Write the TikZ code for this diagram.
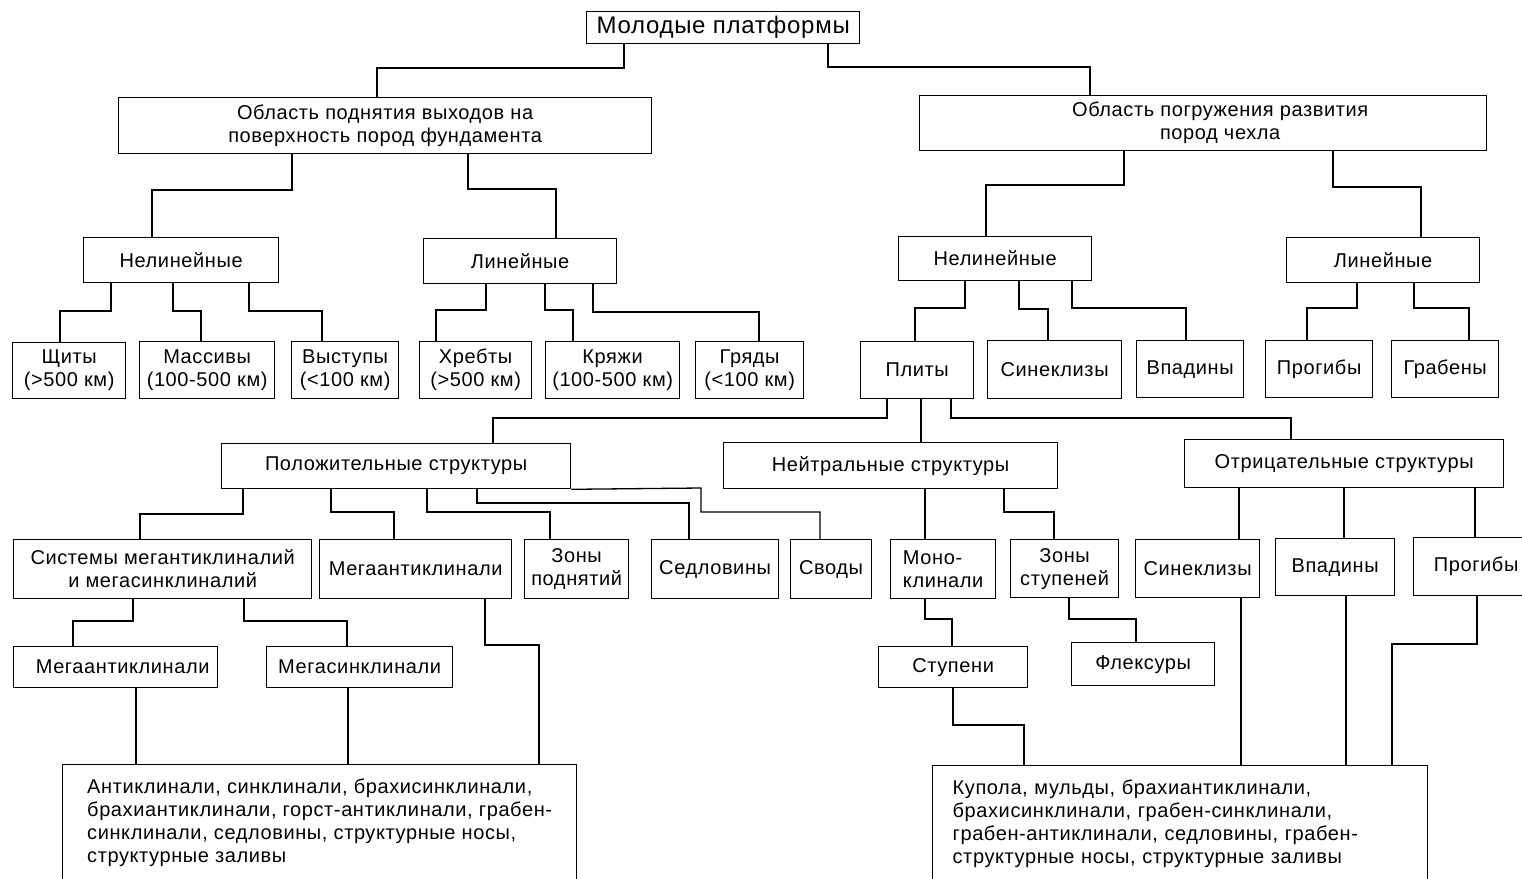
\documentclass[tikz,border=0pt]{standalone}
\usepackage{fontspec}
\setmainfont{Liberation Sans}[LetterSpace=3]
\tikzset{
	box/.style={draw, line width=1.3pt, inner sep=0pt, align=center, anchor=north west,
		font=\fontsize{20}{23}\selectfont},
	list/.style={draw, line width=1.3pt, inner ysep=14pt, align=left, anchor=north west,
		font=\fontsize{20}{23}\selectfont},
	link/.style={line width=1.3pt},
}
\begin{document}
\begin{tikzpicture}[x=1pt, y=-1pt]
		\useasboundingbox (0,0) rectangle (1522,878);
		\clip (0,0) rectangle (1522,878);
		% top levels
		\node[box, minimum width=273pt, minimum height=32pt, font=\fontsize{24}{28}\selectfont] (top) at (586,11) {Молодые платформы};
		\node[box, minimum width=533pt, minimum height=56pt] (upl) at (118,97) {Область поднятия выходов на\\поверхность пород фундамента};
		\node[box, minimum width=567pt, minimum height=55pt] (dwn) at (919,95) {\hspace*{34pt}Область погружения развития\\\hspace*{34pt}пород чехла};
		\node[box, minimum width=195pt, minimum height=45pt] (upnl) at (83,237) {Нелинейные};
		\node[box, minimum width=193pt, minimum height=45pt] (upln) at (423,238) {Линейные};
		\node[box, minimum width=193pt, minimum height=44pt] (dwnl) at (898,236) {Нелинейные};
		\node[box, minimum width=193pt, minimum height=45pt] (dwln) at (1286,237) {Линейные};
		% third row
		\node[box, minimum width=113pt, minimum height=56pt] (shchity) at (12,342) {Щиты\\(>500 км)};
		\node[box, minimum width=135pt, minimum height=57pt] (massivy) at (139,341) {Массивы\\(100-500 км)};
		\node[box, minimum width=107pt, minimum height=57pt] (vystupy) at (291,341) {Выступы\\(<100 км)};
		\node[box, minimum width=112pt, minimum height=57pt] (khrebty) at (419,341) {Хребты\\(>500 км)};
		\node[box, minimum width=134pt, minimum height=57pt] (kryazhi) at (545,341) {Кряжи\\(100-500 км)};
		\node[box, minimum width=108pt, minimum height=57pt] (gryady) at (695,341) {Гряды\\(<100 км)};
		\node[box, minimum width=113pt, minimum height=57pt] (plity) at (860,341) {Плиты};
		\node[box, minimum width=134pt, minimum height=58pt] (sinekl) at (987,340) {Синеклизы};
		\node[box, minimum width=107pt, minimum height=57pt] (vpad) at (1136,340) {Впадины};
		\node[box, minimum width=107pt, minimum height=57pt] (progib) at (1265,340) {Прогибы};
		\node[box, minimum width=107pt, minimum height=57pt] (graben) at (1391,340) {Грабены};
		% structures
		\node[box, minimum width=349pt, minimum height=45pt] (pos) at (221,443) {Положительные структуры};
		\node[box, minimum width=334pt, minimum height=46pt] (neu) at (723,442) {Нейтральные структуры};
		\node[box, minimum width=319pt, minimum height=48pt] (neg) at (1184,439) {Отрицательные структуры};
		\node[box, minimum width=298pt, minimum height=59pt] (sys) at (13,539) {Системы мегантиклиналий\\и мегасинклиналий};
		\node[box, minimum width=192pt, minimum height=59pt] (mega) at (319,539) {Мегаантиклинали};
		\node[box, minimum width=104pt, minimum height=59pt] (zonp) at (524,539) {Зоны\\поднятий};
		\node[box, minimum width=127pt, minimum height=59pt] (sedl) at (651,539) {Седловины};
		\node[box, minimum width=81pt, minimum height=59pt] (svody) at (790,539) {Своды};
		\node[box, minimum width=105pt, minimum height=59pt, align=left] (mono) at (890,539) {Моно-\\клинали};
		\node[box, minimum width=108pt, minimum height=58pt] (zons) at (1010,539) {Зоны\\ступеней};
		\node[box, minimum width=124pt, minimum height=58pt] (sinekl2) at (1135,539) {Синеклизы};
		\node[box, minimum width=119pt, minimum height=57pt] (vpad2) at (1275,538) {Впадины};
		\node[box, minimum width=125pt, minimum height=58pt] (progib2) at (1413,537) {Прогибы};
		\node[box, minimum width=204pt, minimum height=41pt] (megaa) at (13,646) {\hspace*{14pt}Мегаантиклинали};
		\node[box, minimum width=186pt, minimum height=41pt] (megas) at (266,646) {Мегасинклинали};
		\node[box, minimum width=149pt, minimum height=41pt] (stup) at (878,646) {Ступени};
		\node[box, minimum width=143pt, minimum height=43pt] (flex) at (1071,642) {Флексуры};
		% lists
		\node[list, inner xsep=0pt, minimum width=514pt] (listl) at (62,764) {Антиклинали, синклинали, брахисинклинали,\\брахиантиклинали, горст-антиклинали, грабен-\\синклинали, седловины, структурные носы,\\структурные заливы\rule[-14pt]{0pt}{1pt}};
		\node[list, inner xsep=20pt, text width=455pt] (listr) at (932,765) {Купола, мульды, брахиантиклинали,\\брахисинклинали, грабен-синклинали,\\грабен-антиклинали, седловины, грабен-\\структурные носы, структурные заливы\rule[-14pt]{0pt}{1pt}};
		% links
		\draw[link] (top.south -| 624,0) |- (377,68) -- (upl.north -| 377,0);
		\draw[link] (top.south -| 828,0) |- (1090,67) -- (dwn.north -| 1090,0);
		\draw[link] (upl.south -| 292,0) |- (152,190) -- (upnl.north -| 152,0);
		\draw[link] (upl.south -| 468,0) |- (556,189) -- (upln.north -| 556,0);
		\draw[link] (dwn.south -| 1124,0) |- (986,185) -- (dwnl.north -| 986,0);
		\draw[link] (dwn.south -| 1333,0) |- (1421,187) -- (dwln.north -| 1421,0);
		\draw[link] (upnl.south -| 111,0) |- (60,311) -- (shchity.north -| 60,0);
		\draw[link] (upnl.south -| 173,0) |- (201,311) -- (massivy.north -| 201,0);
		\draw[link] (upnl.south -| 249,0) |- (322,311) -- (vystupy.north -| 322,0);
		\draw[link] (upln.south -| 486,0) |- (436,310) -- (khrebty.north -| 436,0);
		\draw[link] (upln.south -| 545,0) |- (573,310) -- (kryazhi.north -| 573,0);
		\draw[link] (upln.south -| 593,0) |- (759,312) -- (gryady.north -| 759,0);
		\draw[link] (dwnl.south -| 965,0) |- (915,308) -- (plity.north -| 915,0);
		\draw[link] (dwnl.south -| 1019,0) |- (1048,309) -- (sinekl.north -| 1048,0);
		\draw[link] (dwnl.south -| 1072,0) |- (1186,308) -- (vpad.north -| 1186,0);
		\draw[link] (dwln.south -| 1357,0) |- (1307,308) -- (progib.north -| 1307,0);
		\draw[link] (dwln.south -| 1414,0) |- (1469,308) -- (graben.north -| 1469,0);
		\draw[link] (plity.south -| 887,0) |- (493,418) -- (pos.north -| 493,0);
		\draw[link] (plity.south -| 921,0) -- (neu.north -| 921,0);
		\draw[link] (plity.south -| 951,0) |- (1291,418) -- (neg.north -| 1291,0);
		\draw[link] (pos.south -| 243,0) |- (140,514) -- (sys.north -| 140,0);
		\draw[link] (pos.south -| 331,0) |- (394,512) -- (mega.north -| 394,0);
		\draw[link] (pos.south -| 427,0) |- (550,512) -- (zonp.north -| 550,0);
		\draw[link] (pos.south -| 477,0) |- (689,503) -- (sedl.north -| 689,0);
		\draw[link] (pos.south east) -- (701,488) |- (820,512) -- (svody.north -| 820,0);
		\draw[link] (neu.south -| 925,0) -- (mono.north -| 925,0);
		\draw[link] (neu.south -| 1004,0) |- (1054,512) -- (zons.north -| 1054,0);
		\draw[link] (neg.south -| 1239,0) -- (sinekl2.north -| 1239,0);
		\draw[link] (neg.south -| 1344,0) -- (vpad2.north -| 1344,0);
		\draw[link] (neg.south -| 1475,0) -- (progib2.north -| 1475,0);
		\draw[link] (sys.south -| 133,0) |- (73,621) -- (megaa.north -| 73,0);
		\draw[link] (sys.south -| 244,0) |- (347,621) -- (megas.north -| 347,0);
		\draw[link] (megaa.south -| 136,0) -- (listl.north -| 136,0);
		\draw[link] (megas.south -| 348,0) -- (listl.north -| 348,0);
		\draw[link] (mega.south -| 485,0) |- (539,645) -- (listl.north -| 539,0);
		\draw[link] (mono.south -| 925,0) |- (952,619) -- (stup.north -| 952,0);
		\draw[link] (zons.south -| 1069,0) |- (1136,619) -- (flex.north -| 1136,0);
		\draw[link] (stup.south -| 953,0) |- (1024,725) -- (listr.north -| 1024,0);
		\draw[link] (sinekl2.south -| 1241,0) -- (listr.north -| 1241,0);
		\draw[link] (vpad2.south -| 1346,0) -- (listr.north -| 1346,0);
		\draw[link] (progib2.south -| 1477,0) |- (1392,644) -- (listr.north -| 1392,0);
	\end{tikzpicture}
\end{document}
